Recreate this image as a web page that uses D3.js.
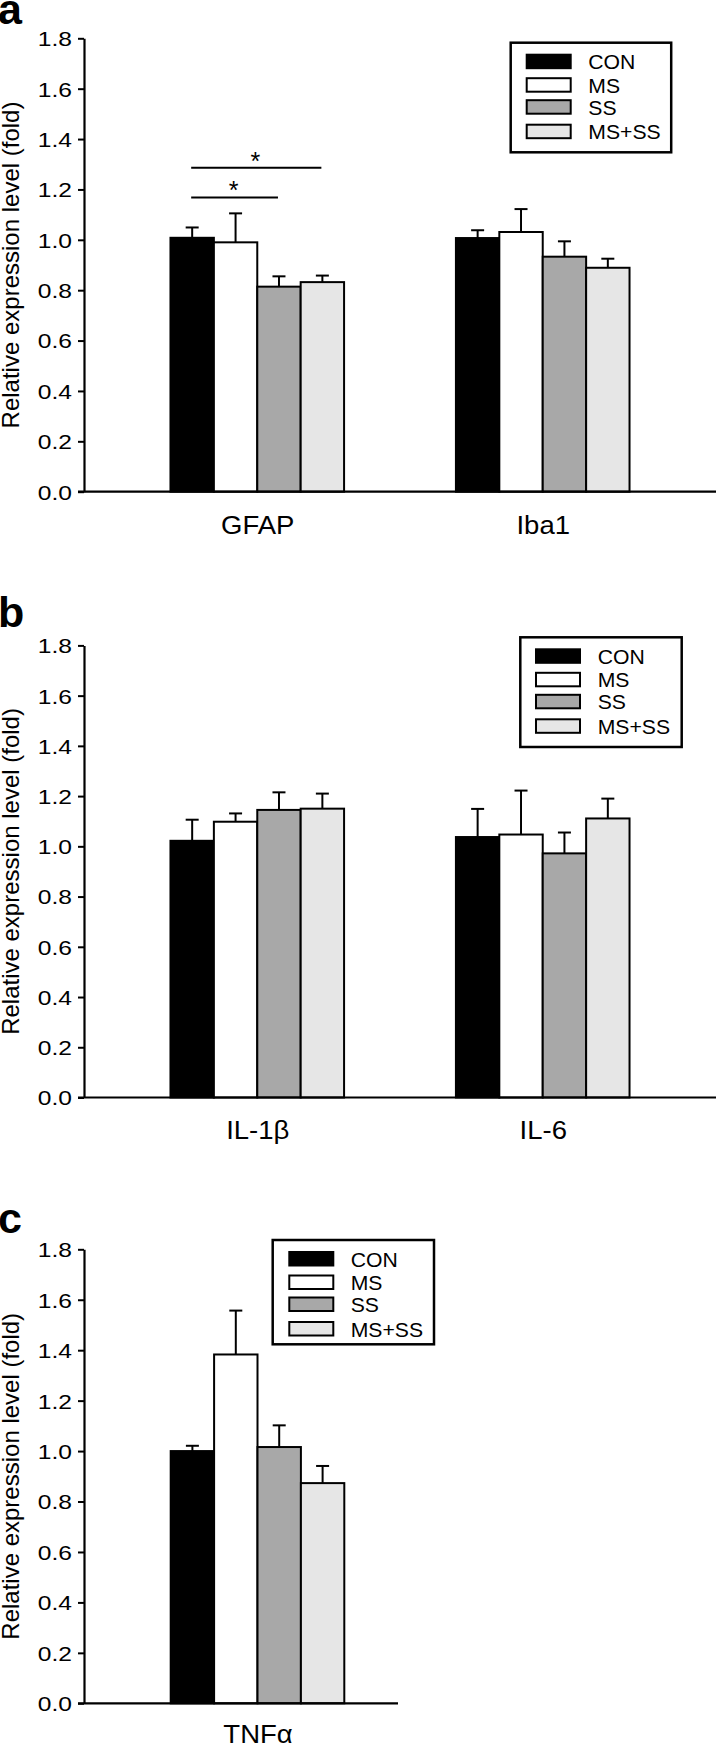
<!DOCTYPE html>
<html>
<head>
<meta charset="utf-8">
<script src="https://cdn.jsdelivr.net/npm/d3@7"></script>
<style>
  html, body { margin: 0; padding: 0; background: #fff; }
  svg { display: block; }
  text { font-family: "Liberation Sans", Arial, sans-serif; fill: #000; }
</style>
</head>
<body>
<svg id="chart" width="716" height="1746"></svg>
<script>
// ---------------- DATA ----------------
const groups = ["CON", "MS", "SS", "MS+SS"];
const groupFills = ["#000000", "#ffffff", "#a8a8a8", "#e6e6e6"];
const yTicks = [0, 0.2, 0.4, 0.6, 0.8, 1.0, 1.2, 1.4, 1.6, 1.8];
const yTitle = "Relative expression level (fold)";

const panelAGenes = ["GFAP", "Iba1"];
const gfapMean = [1.008, 0.990, 0.814, 0.832];
const gfapErr  = [0.041, 0.115, 0.041, 0.026];
const iba1Mean = [1.007, 1.031, 0.933, 0.889];
const iba1Err  = [0.031, 0.091, 0.061, 0.036];

const panelBGenes = ["IL-1β", "IL-6"];
const il1bMean = [1.022, 1.098, 1.145, 1.150];
const il1bErr  = [0.084, 0.033, 0.070, 0.060];
const il6Mean  = [1.037, 1.047, 0.972, 1.111];
const il6Err   = [0.112, 0.175, 0.083, 0.079];

const panelCGenes = ["TNFα"];
const tnfaMean = [1.000, 1.383, 1.016, 0.873];
const tnfaErr  = [0.021, 0.174, 0.086, 0.068];

// significance brackets (panel a, GFAP): from group, to group, bracket level
const sigFrom  = ["CON", "CON"];
const sigTo    = ["SS", "MS+SS"];
const sigLevel = [1.168, 1.286];
const sigLabel = ["*", "*"];

// ---------------- LAYOUT ----------------
const svg = d3.select("#chart");
const FONT = "'Liberation Sans', Arial, sans-serif";
const axisX = 84;
const tickSX = 1.2;   // horizontal stretch of tick labels
const catSX = 1.1;    // horizontal stretch of category labels
const legSX = 1.06;   // horizontal stretch of legend labels

const panels = [
  { letter: "a", letterY: 24,  top: 38.3,   bottom: 491.7, genes: panelAGenes,
    means: [gfapMean, iba1Mean], errs: [gfapErr, iba1Err],
    xRange: [axisX, 716], pad: 0.607, axisEnd: 716, catY: 42,
    legend: { x: 510.7, y: 42.7, w: 160.5, h: 109.6, swX: 16, txX: 77.6 }, sig: true },
  { letter: "b", letterY: 627, top: 645.4,  bottom: 1097.5, genes: panelBGenes,
    means: [il1bMean, il6Mean], errs: [il1bErr, il6Err],
    xRange: [axisX, 716], pad: 0.607, axisEnd: 716, catY: 42,
    legend: { x: 520.3, y: 637.3, w: 161.4, h: 109.7, swX: 15.7, txX: 77.4 }, sig: false },
  { letter: "c", letterY: 1233, top: 1249.3, bottom: 1703.3, genes: panelCGenes,
    means: [tnfaMean], errs: [tnfaErr],
    xRange: [axisX, 431], pad: 0.5, axisEnd: 398, catY: 40,
    legend: { x: 272.7, y: 1240, w: 161.3, h: 104.3, swX: 16.6, txX: 78 }, sig: false }
];

panels.forEach(p => {
  const g = svg.append("g");
  const y = d3.scaleLinear().domain([0, 1.8]).range([p.bottom, p.top]);
  const xg = d3.scalePoint().domain(p.genes).range(p.xRange).padding(p.pad);
  const xi = d3.scaleBand().domain(groups).range([-86.8, 86.8]);
  const fill = d3.scaleOrdinal().domain(groups).range(groupFills);

  // panel letter
  g.append("text").attr("x", -2).attr("y", p.letterY)
    .attr("font-size", 43).attr("font-weight", "bold").text(p.letter);

  // y axis title
  g.append("text")
    .attr("transform", `translate(19,${(p.top + p.bottom) / 2}) rotate(-90)`)
    .attr("text-anchor", "middle").attr("font-size", 24).text(yTitle);

  // bars
  p.genes.forEach((gene, gi) => {
    const means = p.means[gi], errs = p.errs[gi];
    const gg = g.append("g");
    gg.selectAll("rect").data(groups).join("rect")
      .attr("x", d => xg(gene) + xi(d))
      .attr("y", (d, i) => y(means[i]))
      .attr("width", xi.bandwidth())
      .attr("height", (d, i) => y(0) - y(means[i]))
      .attr("fill", d => fill(d))
      .attr("stroke", "#000").attr("stroke-width", 2);
    // error bars (upper)
    groups.forEach((d, i) => {
      const cx = xg(gene) + xi(d) + xi.bandwidth() / 2;
      gg.append("line").attr("x1", cx).attr("x2", cx)
        .attr("y1", y(means[i])).attr("y2", y(means[i] + errs[i]))
        .attr("stroke", "#000").attr("stroke-width", 2);
      gg.append("line").attr("x1", cx - 6.5).attr("x2", cx + 6.5)
        .attr("y1", y(means[i] + errs[i])).attr("y2", y(means[i] + errs[i]))
        .attr("stroke", "#000").attr("stroke-width", 2);
    });
  });

  // significance brackets
  if (p.sig) {
    const gene = p.genes[0];
    sigFrom.forEach((f, k) => {
      const x1 = xg(gene) + xi(f) + xi.bandwidth() / 2;
      const x2 = xg(gene) + xi(sigTo[k]) + xi.bandwidth() / 2;
      g.append("line").attr("x1", x1 - 1).attr("x2", x2 - 1)
        .attr("y1", y(sigLevel[k])).attr("y2", y(sigLevel[k]))
        .attr("stroke", "#000").attr("stroke-width", 2);
      g.append("text").attr("x", (x1 + x2) / 2 - 2).attr("y", y(sigLevel[k]) + 2)
        .attr("text-anchor", "middle").attr("font-size", 25).text(sigLabel[k]);
    });
  }

  // y axis
  const ya = g.append("g").attr("transform", `translate(${axisX},0)`)
    .call(d3.axisLeft(y).tickValues(yTicks).tickFormat(d3.format(".1f"))
      .tickSize(6).tickSizeOuter(0).tickPadding(6));
  ya.select(".domain").attr("stroke-width", 2.2);
  ya.selectAll(".tick line").attr("stroke-width", 2);
  ya.selectAll(".tick text").attr("font-size", 20.5).attr("font-family", FONT)
    .attr("fill", "#000").attr("dy", "0.36em")
    .attr("x", -12 / tickSX).attr("transform", `scale(${tickSX},1)`);

  // x axis
  const xa = g.append("g").attr("transform", `translate(0,${p.bottom})`)
    .call(d3.axisBottom(xg).tickSize(0).tickSizeOuter(0));
  xa.select(".domain").attr("d", `M${axisX - 6},0H${p.axisEnd}`).attr("stroke-width", 2.2);
  xa.selectAll(".tick text").attr("font-size", 25).attr("font-family", FONT)
    .attr("fill", "#000").attr("dy", null).attr("y", p.catY)
    .attr("transform", `scale(${catSX},1)`);

  // legend
  const L = p.legend;
  const lg = g.append("g").attr("transform", `translate(${L.x},${L.y})`);
  lg.append("rect").attr("width", L.w).attr("height", L.h)
    .attr("fill", "#fff").attr("stroke", "#000").attr("stroke-width", 2.5);
  const rowTop = [12, 35.5, 57.5, 82];
  groups.forEach((d, i) => {
    lg.append("rect").attr("x", L.swX).attr("y", rowTop[i])
      .attr("width", 44).attr("height", 13.5)
      .attr("fill", fill(d)).attr("stroke", "#000").attr("stroke-width", 2);
    lg.append("text")
      .attr("transform", `translate(${L.txX},${rowTop[i] + 14.5}) scale(${legSX},1)`)
      .attr("font-size", 20).text(d);
  });
});
</script>
</body>
</html>
